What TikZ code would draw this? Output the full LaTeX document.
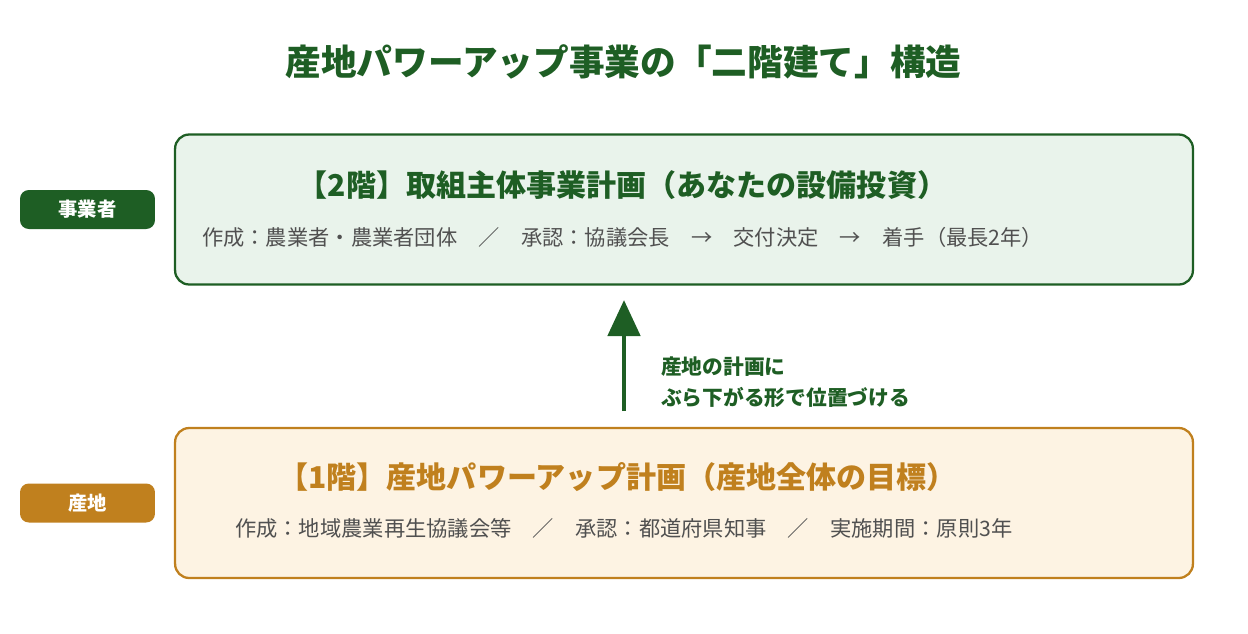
\documentclass[tikz,border=0pt]{standalone}
\usepackage{fontspec}
\setmainfont{Noto Sans CJK JP}
\usetikzlibrary{arrows.meta,% Triangle tip for the big arrow
positioning}
\definecolor{FarmGreen}{HTML}{1E5E24}
\definecolor{FarmGreenBg}{HTML}{E9F3EB}
\definecolor{FarmGold}{HTML}{C0801E}
\definecolor{FarmGoldBg}{HTML}{FDF3E3}
\definecolor{FarmGray}{HTML}{505050}
\tikzset{every node/.style={font=\normalsize},
  floorbox/.style={rounded corners=8pt,line width=1.3pt,minimum width=20.36cm,minimum height=3cm},
  tagbox/.style={rounded corners=5pt,minimum width=2.7cm,minimum height=0.78cm,
    text=white,font=\fontsize{11}{13}\selectfont\bfseries},
  floortitle/.style={font=\fontsize{17.1}{20}\selectfont\bfseries},
  floornote/.style={text=FarmGray,font=\fontsize{12.1}{14}\selectfont}}

\begin{document}
\begin{tikzpicture}[x=0.02cm,y=-0.02cm]
\useasboundingbox (0,0) rectangle (1248,633);
% heading
\node[text=FarmGreen,font=\fontsize{20.3}{24}\selectfont\bfseries] (Heading) at (623.5,62)
  {産地パワーアップ事業の「二階建て」構造};
% 2nd floor
\node[floorbox,draw=FarmGreen,fill=FarmGreenBg] (TopBox) at (684,209.5) {};
\node[floortitle,text=FarmGreen] (TopTitle) at (622.5,185)
  {【2階】取組主体事業計画（あなたの設備投資）};
\node[floornote,anchor=west] (TopNote) at (196,237)
  {作成：農業者・農業者団体　／　承認：協議会長　→　交付決定　→　着手（最長2年）};
\node[tagbox,fill=FarmGreen] (TopTag) at (87.5,209.5) {事業者};
% 1st floor
\node[floorbox,draw=FarmGold,fill=FarmGoldBg] (BottomBox) at (684,503) {};
\node[floortitle,text=FarmGold] (BottomTitle) at (617.5,477)
  {【1階】産地パワーアップ計画（産地全体の目標）};
\node[floornote,anchor=west] (BottomNote) at (229,528)
  {作成：地域農業再生協議会等　／　承認：都道府県知事　／　実施期間：原則3年};
\node[tagbox,fill=FarmGold] (BottomTag) at (87.5,503) {産地};
% link between the floors
\coordinate (ArrowFoot) at (624,411);
\coordinate (ArrowTip) at (624,300);
\draw[FarmGreen,line width=2.8pt,-{Triangle[length=0.72cm,width=0.64cm]}] (ArrowFoot) -- (ArrowTip);
\node[anchor=west,text=FarmGreen,align=left,font=\fontsize{11.8}{17.6}\selectfont\bfseries] (ArrowNote)
  at (655,382.5) {産地の計画に\\ぶら下がる形で位置づける};
\end{tikzpicture}
\end{document}
